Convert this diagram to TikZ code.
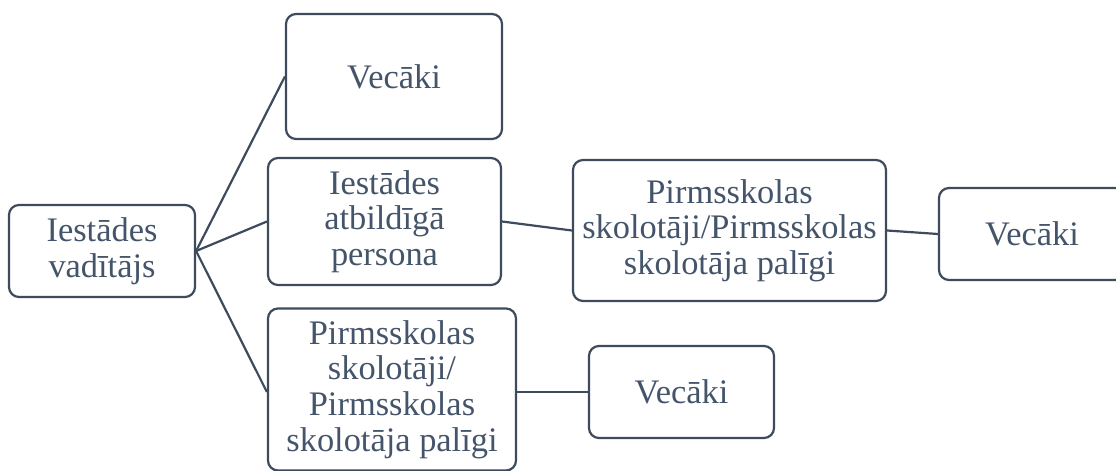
\documentclass[tikz,border=0pt]{standalone}
\usepackage{fontspec}
\setmainfont{Liberation Serif}
\usetikzlibrary{positioning}
\definecolor{boxline}{HTML}{3E4B5D}
\definecolor{boxtext}{HTML}{44546A}
\def\mylw{1.1pt}
\tikzset{
x=0.5pt,y=-0.5pt, % pixel grid, y downwards
my node/.style={draw=boxline,line width=\mylw,rounded corners=5pt,inner sep=0pt,
  align=center,text=boxtext,font=\fontsize{17.2}{17.8}\selectfont},
small box/.style={my node,minimum width=93pt,minimum height=46pt},
tall box/.style={my node,minimum width=108pt,minimum height=62.5pt},
link/.style={draw=boxline,line width=\mylw}
}
\begin{document}
\begin{tikzpicture}
\path[use as bounding box,clip] (0,0) rectangle (1116,471);

\node[small box] (head) at (102,251) {Iestādes\\vadītājs};
\node[tall box] (par1) at (394,76.5) {Vecāki};
\node[my node,minimum width=116.5pt,minimum height=63.5pt] (resp) at (384.5,221.5)
  {Iestādes\\atbildīgā\\persona};
\node[my node,minimum width=124pt,minimum height=81pt] (teach) at (392,389.5)
  {Pirmsskolas\\skolotāji/\\Pirmsskolas\\skolotāja palīgi};
\node[my node,minimum width=156.5pt,minimum height=70.5pt] (staff) at (729.5,230.5)
  {Pirmsskolas\\skolotāji/Pirmsskolas\\skolotāja palīgi};
\node[small box] (par2) at (1032,234) {Vecāki};
\node[small box,minimum width=92.5pt] (par3) at (681.5,392) {Vecāki};

\draw[link] (head.east) -- (par1.west);
\draw[link] (head.east) -- (resp.west);
\draw[link] (head.east) -- (teach.west |- par3.west);
\draw[link] (resp.east) -- (staff.west);
\draw[link] (staff.east) -- (par2.west);
\draw[link] (teach.east |- par3.west) -- (par3.west);
\end{tikzpicture}
\end{document}
